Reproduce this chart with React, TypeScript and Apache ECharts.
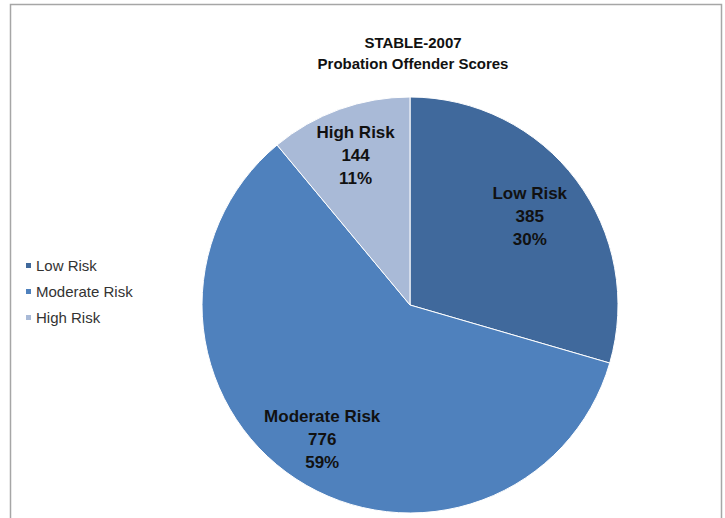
import React, { useEffect, useRef } from "react";
import * as echarts from "echarts";

const categories = ["Low Risk", "Moderate Risk", "High Risk"];
const values = [385, 776, 144];
const titleLines = ["STABLE-2007", "Probation Offender Scores"];

const colors = ["#40699C", "#4F81BD", "#A9BAD7"];
const labelRadiusFraction = [0.72, 0.77, 0.77];
const CX = 410;
const CY = 305;
const R = 208;

export default function App() {
  const ref = useRef<HTMLDivElement>(null);
  useEffect(() => {
    document.body.style.margin = "0";
    const chart = echarts.init(ref.current!, null, { renderer: "svg" });
    const total = values.reduce((a, b) => a + b, 0);
    const midAngles: number[] = [];
    let cum = 0;
    values.forEach((v) => {
      midAngles.push(90 - (360 * (cum + v / 2)) / total);
      cum += v;
    });
    chart.setOption({
      animation: false,
      backgroundColor: "#ffffff",
      title: {
        text: titleLines.join("\n"),
        left: 413,
        textAlign: "center",
        top: 32,
        padding: 0,
        textStyle: {
          fontFamily: "Liberation Sans",
          fontWeight: "bold",
          fontSize: 15,
          lineHeight: 21,
          color: "#111",
        },
      },
      legend: {
        orient: "vertical",
        left: 19,
        top: 253,
        itemWidth: 7,
        itemHeight: 7,
        itemGap: 11,
        icon: "rect",
        textStyle: {
          fontFamily: "Liberation Sans",
          fontSize: 15,
          color: "#333",
          padding: [0, 0, 0, -1],
        },
        data: categories,
      },
      graphic: [
        {
          type: "rect",
          shape: { x: 10.5, y: 4.5, width: 711, height: 600 },
          style: { fill: "none", stroke: "#A6A6A6", lineWidth: 1.5 },
          silent: true,
        },
      ],
      series: [
        {
          type: "pie",
          center: [CX, CY],
          radius: R,
          startAngle: 90,
          clockwise: true,
          percentPrecision: 0,
          itemStyle: { borderColor: "#ffffff", borderWidth: 1 },
          label: {
            show: true,
            position: "inside",
            formatter: "{b}\n{c}\n{d}%",
            fontFamily: "Liberation Sans",
            fontWeight: "bold",
            fontSize: 17,
            lineHeight: 23,
            color: "#111",
            align: "center",
          },
          labelLayout: (params: any) => {
            const i = params.dataIndex;
            const a = (midAngles[i] * Math.PI) / 180;
            const f = labelRadiusFraction[i] * R;
            return {
              x: CX + f * Math.cos(a),
              y: CY - f * Math.sin(a) + 1,
              align: "center",
              verticalAlign: "middle",
            };
          },
          labelLine: { show: false },
          data: categories.map((name, i) => ({
            name,
            value: values[i],
            itemStyle: { color: colors[i] },
          })),
        },
      ],
    });
    return () => chart.dispose();
  }, []);
  return <div ref={ref} style={{ width: 725, height: 518 }} />;
}
